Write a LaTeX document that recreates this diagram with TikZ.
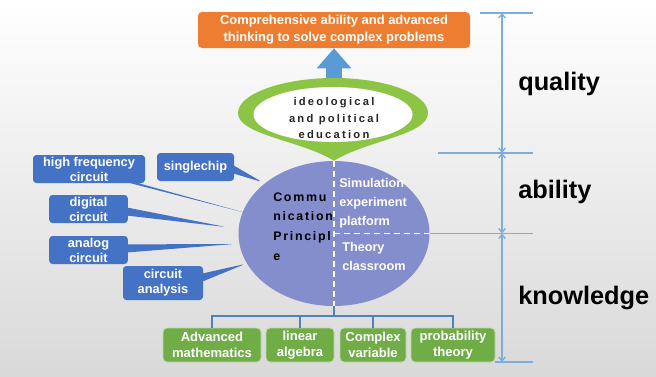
\documentclass[tikz,border=0pt]{standalone}
\usepackage{fontspec}
\setmainfont{Liberation Sans}
\newfontfamily\spacedbf{Liberation Sans Bold}[LetterSpace=14]
\newfontfamily\ringbf{Liberation Sans Bold}[LetterSpace=20]
\usetikzlibrary{shapes.geometric,shapes.callouts,arrows.meta}
\definecolor{orangebox}{RGB}{237,125,49}
\definecolor{arrowblue}{RGB}{91,155,213}
\definecolor{ringgreen}{RGB}{140,196,70}
\definecolor{boxblue}{RGB}{68,114,196}
\definecolor{boxgreen}{RGB}{112,173,71}
\definecolor{ellblue}{RGB}{133,142,204}
\definecolor{treeblue}{RGB}{79,129,189}
\definecolor{scaleblue}{RGB}{123,173,222}

\begin{document}
\begin{tikzpicture}[x=0.75pt,y=-0.75pt,
	bluebox/.style={rectangle callout, fill=boxblue, rounded corners=2.5pt, text=white, align=center, inner sep=0pt, minimum height=21pt, callout pointer width=6pt, font=\bfseries\fontsize{9.6}{11.25}\selectfont},
	greenbox/.style={rectangle, fill=boxgreen, draw=white!55!boxgreen, line width=0.6pt, rounded corners=3pt, text=white, align=center, inner sep=0pt, minimum height=25.5pt, font=\bfseries\fontsize{9.8}{12}\selectfont},
	treeline/.style={draw=treeblue, line width=1pt},
	scaleline/.style={draw=scaleblue, line width=1pt},
	scalearrow/.style={scaleline, {Straight Barb[length=3pt,width=5pt]}-{Straight Barb[length=3pt,width=5pt]}},
	levelname/.style={anchor=west, inner sep=0pt, font=\bfseries\fontsize{19}{22}\selectfont}]
	\useasboundingbox (0,0) rectangle (656,376);
	\shade[top color=white, bottom color=black!15] (0,0) rectangle (656,376);

	% top goal
	\node[fill=orangebox, rounded corners=3pt, minimum width=204pt, minimum height=27pt, inner sep=0pt, align=center, text=white, font=\bfseries\fontsize{9.7}{12.75}\selectfont] (goal) at (334,30) {Comprehensive ability and advanced\\thinking to solve complex problems};

	% main ellipse
	\node[ellipse, fill=ellblue, minimum width=143.25pt, minimum height=108.75pt, inner sep=0pt] (ell) at (334,233.5) {};

	% green ring
	\coordinate (ideotop) at (334,78);
	\fill[ringgreen] (ell.north) .. controls (300,140) and (238,135) .. (238,113)
		.. controls (238,94) and (282,78) .. (ideotop)
		.. controls (386,78) and (428,94) .. (428,113)
		.. controls (428,135) and (368,140) .. (ell.north) -- cycle;
	\node[ellipse, fill=white, minimum width=119.25pt, minimum height=41.25pt, inner sep=0pt] (ring) at (333,114.5) {};
	\node[align=center, inner sep=0pt, text=black!85, font=\ringbf\fontsize{8.4}{12.4}\selectfont] (ipe) at (334,118) {ideological\\and political\\education};
	\draw[arrowblue, line width=12pt, -{Triangle[length=15pt,width=25pt]}] (ideotop) -- (goal.south);

	% ellipse inside
	\draw[white, dash pattern=on 4.5pt off 3pt, line width=1.2pt] (ell.north) -- (ell.south);
	\draw[white, dash pattern=on 4.5pt off 3pt, line width=1.2pt] (ell.center) -- (ell.east);
	\node[anchor=west, align=left, inner sep=0pt, font=\spacedbf\fontsize{9.3}{14.8}\selectfont] (cp) at (273,226.5) {Commu\\nication\\Principl\\e};
	\node[anchor=west, align=left, inner sep=0pt, text=white, font=\bfseries\fontsize{9.5}{14.25}\selectfont] (sim) at (339,203) {Simulation\\experiment\\platform};
	\node[anchor=west, align=left, inner sep=0pt, text=white, font=\bfseries\fontsize{9.5}{14.25}\selectfont] (theo) at (342,256.5) {Theory\\classroom};

	% left callouts
	\coordinate (tipHF) at (246,213);
	\coordinate (tipSC) at (262,182);
	\coordinate (tipDC) at (226,227);
	\coordinate (tipAC) at (234,244);
	\coordinate (tipCA) at (245,264);
	\node[bluebox, minimum width=84pt, callout absolute pointer={(tipHF)}] (hf) at (89,169) {high frequency\\circuit};
	\node[bluebox, minimum width=57.75pt, callout absolute pointer={(tipSC)}] (sc) at (195.5,167) {singlechip};
	\node[bluebox, minimum width=59pt, callout absolute pointer={(tipDC)}] (dc) at (88.5,209) {digital\\circuit};
	\node[bluebox, minimum width=59pt, callout absolute pointer={(tipAC)}] (ac) at (88.5,250) {analog\\circuit};
	\node[bluebox, minimum width=60pt, minimum height=25.5pt, callout absolute pointer={(tipCA)}] (ca) at (163,283) {circuit\\analysis};

	% bottom boxes
	\node[greenbox, minimum width=73.5pt] (am) at (212,345) {Advanced\\mathematics};
	\node[greenbox, minimum width=51pt] (la) at (300,345) {linear\\algebra};
	\node[greenbox, minimum width=49.5pt] (cv) at (373,345) {Complex\\variable};
	\node[greenbox, minimum width=63pt] (pt) at (453,345) {probability\\theory};
	\coordinate (bus) at (334,316);
	\draw[treeline] (ell.south) -- (bus);
	\draw[treeline] (bus) -| (am.north);
	\draw[treeline] (bus) -| (la.north);
	\draw[treeline] (bus) -| (cv.north);
	\draw[treeline] (bus) -| (pt.north);

	% levels
	\coordinate (lv0) at (502,13);
	\coordinate (lv1) at (502,153);
	\coordinate (lv2) at (502,233.5);
	\coordinate (lv3) at (502,362);
	\draw[scaleline] (480,13) -- (533,13);
	\draw[scaleline] (438,153) -- (533,153);
	\draw[scaleline] (ell.east) -- (533,233.5);
	\draw[scaleline] (495,362) -- (533,362);
	\draw[scalearrow] (lv0) -- (lv1);
	\draw[scalearrow] (lv1) -- (lv2);
	\draw[scalearrow] (lv2) -- (lv3);
	\node[levelname] (qual) at (518,84) {quality};
	\node[levelname] (abil) at (518,192) {ability};
	\node[levelname] (know) at (518,298) {knowledge};
\end{tikzpicture}
\end{document}
